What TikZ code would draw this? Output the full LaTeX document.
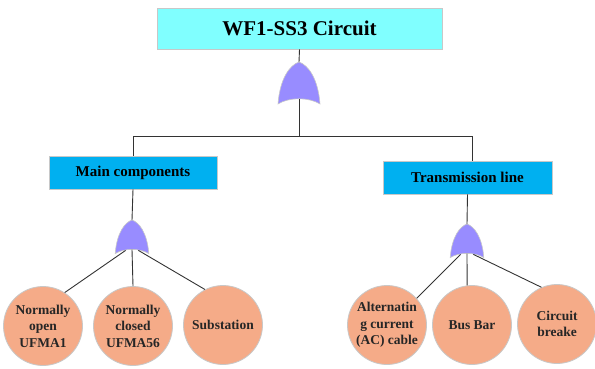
\documentclass[tikz,border=0pt]{standalone}
\usepackage{fontspec}
\setmainfont{Liberation Serif}
\definecolor{titlecol}{RGB}{128,255,255}
\definecolor{boxcol}{RGB}{0,176,240}
\definecolor{gatecol}{RGB}{152,140,255}
\definecolor{leafcol}{RGB}{245,171,136}
\definecolor{edgecol}{RGB}{200,200,200}
\tikzset{
  titlebox/.style={draw=edgecol, line width=0.8pt, fill=titlecol, minimum width=285pt, minimum height=41pt, inner sep=0pt, font=\fontsize{21}{25}\selectfont\bfseries},
  subbox/.style={draw=edgecol, line width=0.8pt, fill=boxcol, minimum height=33pt, inner sep=0pt, font=\fontsize{15}{18}\selectfont\bfseries},
  leaf/.style={circle, draw=edgecol, line width=0.8pt, fill=leafcol, minimum size=79pt, inner sep=0pt, align=center, text=black!85, font=\fontsize{13.5}{16.5}\selectfont\bfseries},
  wire/.style={draw=black!80, line width=0.9pt},
  orgate/.pic={
    \path[fill=gatecol, draw=edgecol, line width=0.6pt] (-21,42) .. controls (-19,16) and (-9,3) .. (0,0) .. controls (9,3) and (19,16) .. (21,42) .. controls (10,35) and (-10,35) .. (-21,42) -- cycle;
    \coordinate (-in) at (0,0);
    \coordinate (-o1) at (-8,38);
    \coordinate (-o2) at (0,37);
    \coordinate (-o3) at (8,38);
  }
}
\begin{document}
\begin{tikzpicture}[x=1pt, y=-1pt]
\useasboundingbox (0,0) rectangle (595,368);
\node[titlebox] (top) at (299.5,28.5) {WF1-SS3 Circuit};
\node[subbox, minimum width=168pt] (main) at (133,172.5) {Main components};
\node[subbox, minimum width=169pt] (trans) at (467.5,177.5) {Transmission line};
\coordinate (split) at (299,136);
% gates
\pic (g1) at (299,62) {orgate};
\pic[scale=0.8] (g2) at (132,220) {orgate};
\pic[scale=0.8] (g3) at (467,224) {orgate};
% basic events
\node[leaf] (c1) at (43,326) {Normally\\open\\UFMA1};
\node[leaf] (c2) at (133,326) {Normally\\closed\\UFMA56};
\node[leaf] (c3) at (223,325) {Substation};
\node[leaf] (c4) at (387,325) {Alternatin\\g current\\(AC) cable};
\node[leaf] (c5) at (472,325) {Bus Bar};
\node[leaf] (c6) at (557,324) {Circuit\\breake};
% connections
\draw[wire] (top.south) -- (g1-in);
\draw[wire] (g1-o2) -- (split);
\draw[wire] (split) -| (main.north);
\draw[wire] (split) -| ([xshift=4.5pt]trans.north);
\draw[wire] (main.south) -- (g2-in);
\draw[wire] (trans.south) -- (g3-in);
\draw[wire] (g2-o1) -- (c1.57);
\draw[wire] (g2-o2) -- (c2.north);
\draw[wire] (g2-o3) -- (c3.117);
\draw[wire] (g3-o1) -- (c4.42);
\draw[wire] (g3-o2) -- (c5.97);
\draw[wire] (g3-o3) -- (c6.113);
\end{tikzpicture}
\end{document}
